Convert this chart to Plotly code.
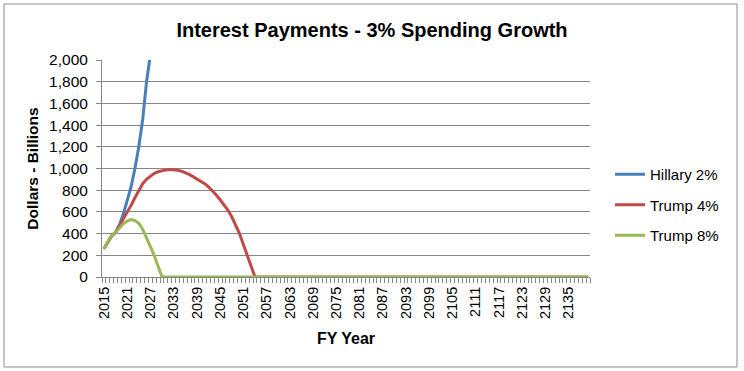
import plotly.graph_objects as go

# Categories (fiscal years)
years = list(range(2015, 2141))
tick_years = list(range(2015, 2136, 6))

# Series values (billions of dollars)
hillary_2 = [260, 320, 380, 410, 480, 580, 700, 830, 1000, 1200, 1450, 1800, 2050]

trump_4_nonzero = [260, 320, 380, 410, 470, 530, 600, 660, 730, 800,
                   860, 900, 930, 955, 970, 980, 987, 990, 990, 985,
                   975, 962, 945, 925, 905, 885, 860, 830, 795, 755,
                   712, 667, 617, 555, 480, 400, 300, 200, 100]
trump_4 = trump_4_nonzero + [0] * (len(years) - len(trump_4_nonzero))

trump_8_nonzero = [260, 320, 380, 410, 450, 490, 515, 530, 520, 495,
                   440, 365, 280, 195, 100]
trump_8 = trump_8_nonzero + [0] * (len(years) - len(trump_8_nonzero))

series = [
    ("Hillary 2%", hillary_2, "#4A7EBB"),
    ("Trump 4%", trump_4, "#BE4B48"),
    ("Trump 8%", trump_8, "#98B954"),
]

fig = go.Figure()
for i, (name, vals, color) in enumerate(series):
    fig.add_trace(go.Scatter(
        x=years[:len(vals)], y=vals, name=name, mode="lines",
        line=dict(color=color, width=3),
        legendgroup=f"g{i}",
    ))

W, H = 744, 371
L, R, T, B = 102, 154, 60, 94
pw, ph = W - L - R, H - T - B

def px_x(x):
    return (x - L) / pw

def px_y(y):
    return (H - B - y) / ph

fig.update_layout(
    width=W, height=H,
    margin=dict(l=L, r=R, t=T, b=B, autoexpand=False),
    paper_bgcolor="white", plot_bgcolor="white",
    font=dict(family="Liberation Sans, Arial, sans-serif", color="black"),
    title=dict(text="<b>Interest Payments - 3% Spending Growth</b>",
               x=0.5, xref="container", xanchor="center",
               y=1 - 30 / H, yref="container", yanchor="middle",
               font=dict(size=20, color="black")),
    showlegend=True,
    legend=dict(x=px_x(610), xanchor="left", y=px_y(158), yanchor="top",
                font=dict(size=15), tracegroupgap=8,
                bgcolor="rgba(0,0,0,0)"),
    shapes=[dict(type="rect", xref="paper", yref="paper",
                 x0=px_x(4), x1=px_x(737), y0=px_y(367), y1=px_y(4),
                 line=dict(color="#8c8c8c", width=1), layer="above")],
)

fig.update_xaxes(
    range=[2014.5, 2140.5],
    tickmode="array", tickvals=tick_years, ticktext=[str(y) for y in tick_years],
    tickangle=-90, tickfont=dict(size=14.5), ticklabelstandoff=3,
    ticks="", showgrid=False, zeroline=False,
    showline=True, linecolor="#868686", linewidth=1,
    minor=dict(ticks="outside", tick0=2014.5, dtick=1, ticklen=5,
               tickcolor="#868686", showgrid=False),
    title=dict(text="<b>FY Year</b>", font=dict(size=16), standoff=14),
)

fig.update_yaxes(
    range=[0, 2000], dtick=200, tickformat=",",
    tickfont=dict(size=15.5), ticklabelstandoff=5,
    ticks="outside", ticklen=5, tickcolor="#868686",
    showgrid=True, gridcolor="#868686", gridwidth=1,
    zeroline=False, showline=True, linecolor="#868686", linewidth=1,
    title=dict(text="<b>Dollars - Billions</b>", font=dict(size=15.5), standoff=6),
)

fig.write_html("out.html", config={"displayModeBar": False},
               post_script="document.body.style.margin='0';document.body.style.overflow='hidden';")
